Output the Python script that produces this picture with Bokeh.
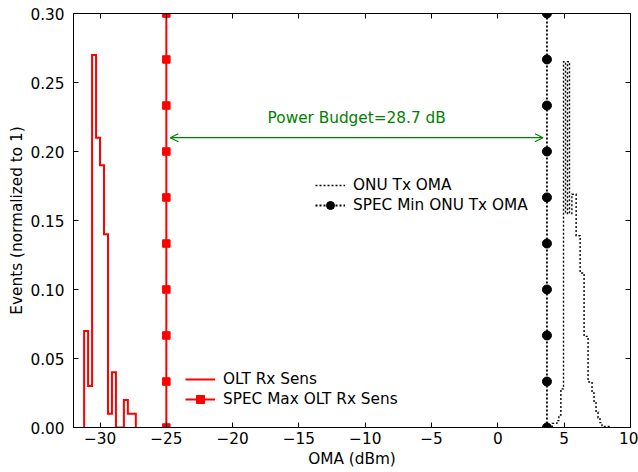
import numpy as np
from bokeh.plotting import figure
from bokeh.models import (LinearAxis, Range1d, Legend, LegendItem, Arrow,
                          OpenHead, FixedTicker, Label)
from bokeh.embed import file_html
from bokeh.resources import INLINE

# OLT receiver sensitivity histogram: bin edges (dBm) and normalized counts
olt_edges = [-31.2, -30.9, -30.6, -30.3, -30.0, -29.7, -29.4, -29.1, -28.8,
             -28.5, -28.2, -27.9, -27.6, -27.3]
olt_counts = [0.07, 0.03, 0.27, 0.21, 0.19, 0.14, 0.01, 0.04, 0.0, 0.0,
              0.02, 0.01, 0.01]

# ONU transmitter OMA histogram: bin edges (dBm) and normalized counts
onu_edges = [4.1, 4.45, 4.6, 4.75, 4.95, 5.1, 5.25, 5.4, 5.58, 5.9, 6.2, 6.5,
             6.8, 7.1, 7.25, 7.4, 7.55, 7.7, 7.85, 8.45]
onu_counts = [0.003, 0.005, 0.009, 0.028, 0.265, 0.155, 0.265, 0.155, 0.169,
              0.139, 0.112, 0.066, 0.033, 0.025, 0.018, 0.011, 0.007, 0.0035,
              0.0008]

# Specification limits (dBm)
olt_spec = -25.0
onu_spec = 3.7

# Marker heights along the spec lines
spec_y = [0.0, 0.0333, 0.0667, 0.1, 0.1333, 0.1667, 0.2, 0.2333, 0.2667, 0.3]

# Axis ticks
x_ticks = [-30, -25, -20, -15, -10, -5, 0, 5, 10]
x_tick_labels = ["\u221230", "\u221225", "\u221220", "\u221215", "\u221210",
                 "\u22125", "0", "5", "10"]
y_ticks = [0.0, 0.05, 0.10, 0.15, 0.20, 0.25, 0.30]
y_tick_labels = ["0.00", "0.05", "0.10", "0.15", "0.20", "0.25", "0.30"]

FONT = "DejaVu Sans"
FS = "15.3px"


def step_outline(edges, counts):
    """Closed step outline of a histogram, starting and ending on the baseline."""
    xs, ys = [edges[0]], [0.0]
    for i, c in enumerate(counts):
        xs += [edges[i], edges[i + 1]]
        ys += [c, c]
    xs.append(edges[-1])
    ys.append(0.0)
    return xs, ys


p = figure(frame_width=557, frame_height=414,
           min_border_left=73, min_border_right=8,
           min_border_top=13, min_border_bottom=45,
           x_range=Range1d(-32, 10), y_range=Range1d(0, 0.3),
           output_backend="svg", toolbar_location=None,
           background_fill_color="white", border_fill_color="white")
p.grid.visible = False
p.outline_line_color = "black"
p.outline_line_width = 1

# Axes
for ax, ticks, labels in ((p.xaxis[0], x_ticks, x_tick_labels),
                          (p.yaxis[0], y_ticks, y_tick_labels)):
    ax.ticker = FixedTicker(ticks=ticks)
    ax.major_label_overrides = {t: l for t, l in zip(ticks, labels)}
    ax.major_tick_in = 5
    ax.major_tick_out = 0
    ax.minor_tick_in = 0
    ax.minor_tick_out = 0
    ax.major_tick_line_color = "black"
    ax.axis_line_color = "black"
    ax.major_label_text_font = FONT
    ax.major_label_text_font_size = FS
    ax.major_label_text_color = "black"
    ax.axis_label_text_font = FONT
    ax.axis_label_text_font_size = FS
    ax.axis_label_text_font_style = "normal"
    ax.axis_label_text_color = "black"

p.xaxis.axis_label = "OMA (dBm)"
p.yaxis.axis_label = "Events (normalized to 1)"
p.xaxis.major_label_standoff = 4
p.yaxis.major_label_standoff = 9
p.xaxis.axis_label_standoff = 3
p.yaxis.axis_label_standoff = 1

# Mirror ticks on the right and top edges
for side, ticks in (("right", y_ticks), ("above", x_ticks)):
    ax = LinearAxis(ticker=FixedTicker(ticks=ticks),
                    major_tick_in=5, major_tick_out=0,
                    minor_tick_in=0, minor_tick_out=0,
                    major_label_text_font_size="0px",
                    major_label_standoff=0,
                    axis_line_color="black", major_tick_line_color="black")
    p.add_layout(ax, side)

# Histograms
ox, oy = step_outline(olt_edges, olt_counts)
olt_hist = p.line(ox, oy, line_color="red", line_width=2, line_join="miter")

nx, ny = step_outline(onu_edges, onu_counts)
onu_hist = p.line(nx, ny, line_color="black", line_width=1.4,
                  line_dash="2 2", line_join="miter")

# Spec lines with markers
olt_x = [olt_spec] * len(spec_y)
onu_x = [onu_spec] * len(spec_y)
olt_line = p.line(olt_x, spec_y, line_color="red", line_width=2)
olt_marks = p.scatter(olt_x, spec_y, marker="square", size=7.5,
                      fill_color="red", line_color="red")
onu_line = p.line(onu_x, spec_y, line_color="black", line_width=1.8,
                  line_dash="2 2")
onu_marks = p.scatter(onu_x, spec_y, marker="circle", size=9,
                      fill_color="black", line_color="black")

# Power budget annotation
budget = onu_spec - olt_spec
arrow_y = 0.21
gap = 0.3
head = dict(size=8, line_color="green", line_width=1.2)
p.add_layout(Arrow(start=OpenHead(**head), end=OpenHead(**head),
                   x_start=olt_spec + gap, x_end=onu_spec - gap,
                   y_start=arrow_y, y_end=arrow_y,
                   line_color="green", line_width=1.2))
p.add_layout(Label(x=(olt_spec + onu_spec) / 2, y=arrow_y + 0.0145,
                   text=f"Power Budget={budget:.1f} dB",
                   text_align="center", text_baseline="middle",
                   text_color="green", text_font=FONT, text_font_size=FS))


def make_legend(items, loc):
    lg = Legend(items=items, location=loc, orientation="vertical",
                label_text_font=FONT, label_text_font_size=FS,
                label_text_color="black",
                glyph_width=30, glyph_height=20, label_height=20,
                label_standoff=8, spacing=0, padding=0, margin=0,
                border_line_color=None, background_fill_alpha=0)
    p.add_layout(lg)


make_legend([LegendItem(label="ONU Tx OMA", renderers=[onu_hist]),
             LegendItem(label="SPEC Min ONU Tx OMA",
                        renderers=[onu_line, onu_marks])], (242, 212))
make_legend([LegendItem(label="OLT Rx Sens", renderers=[olt_hist]),
             LegendItem(label="SPEC Max OLT Rx Sens",
                        renderers=[olt_line, olt_marks])], (112, 18))

open("out.html", "w").write(file_html(p, INLINE))
